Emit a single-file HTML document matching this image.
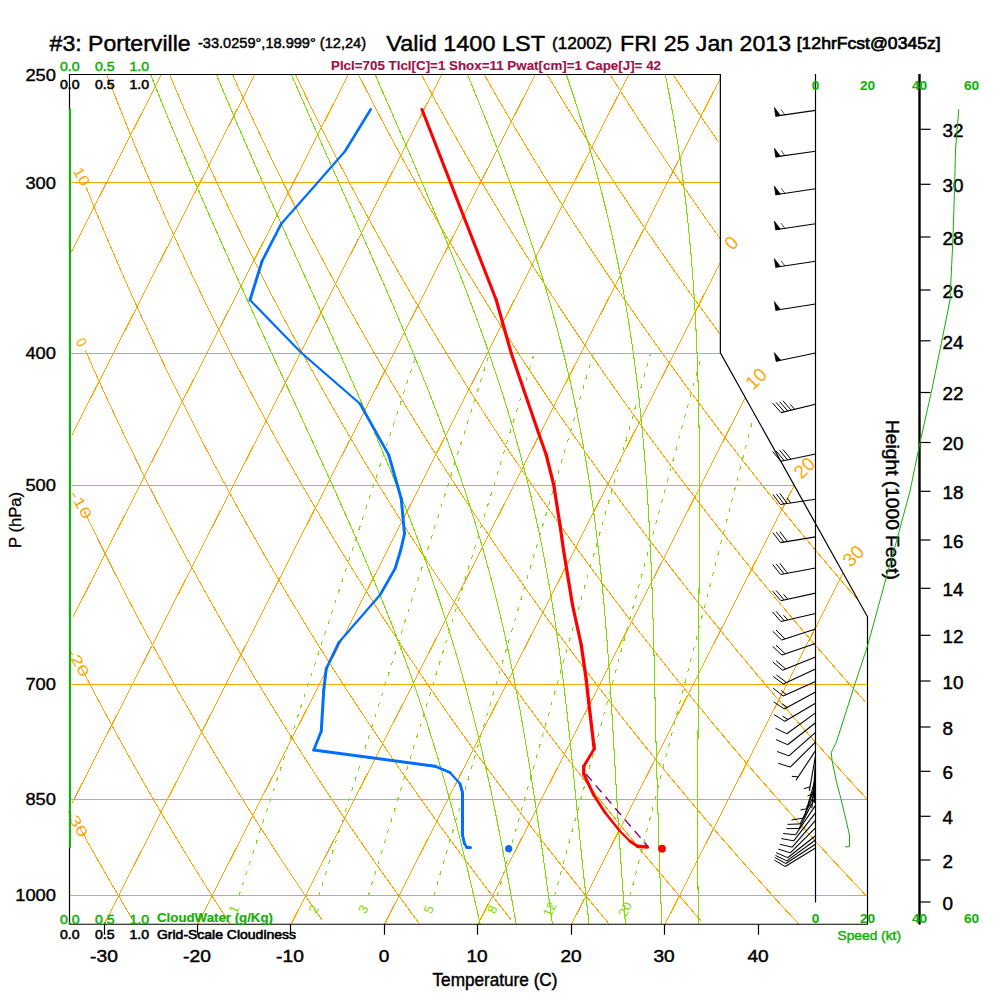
<!DOCTYPE html>
<html><head><meta charset="utf-8"><title>Skew-T</title>
<style>html,body{margin:0;padding:0;background:#fff;overflow:hidden}svg{display:block}text{font-family:"Liberation Sans",sans-serif}</style>
</head><body>
<svg width="1000" height="1000" viewBox="0 0 1000 1000">
<rect width="1000" height="1000" fill="#fff"/>
<defs><clipPath id="fc"><polygon transform="translate(-0.6 -0.5)" points="69.50,924.25 69.50,74.50 720.36,74.50 720.36,352.80 867.50,616.83 867.50,924.25"/></clipPath></defs>
<g clip-path="url(#fc)" transform="translate(0.6 0.5)" shape-rendering="crispEdges">
<polyline points="71.94,-303.67 155.34,-468.06" fill="none" stroke="#FFA500" stroke-width="1" />
<polyline points="70.58,-116.74 248.81,-468.06" fill="none" stroke="#FFA500" stroke-width="1" />
<polyline points="70.66,67.35 342.29,-468.06" fill="none" stroke="#FFA500" stroke-width="1" />
<polyline points="70.80,251.32 435.76,-468.06" fill="none" stroke="#FFA500" stroke-width="1" />
<polyline points="71.46,434.27 529.24,-468.06" fill="none" stroke="#FFA500" stroke-width="1" />
<polyline points="72.19,617.06 622.71,-468.06" fill="none" stroke="#FFA500" stroke-width="1" />
<polyline points="71.54,802.60 716.19,-468.06" fill="none" stroke="#FFA500" stroke-width="1" />
<polyline points="103.30,924.25 719.51,-290.36" fill="none" stroke="#FFA500" stroke-width="1" />
<polyline points="196.77,924.25 718.33,-103.79" fill="none" stroke="#FFA500" stroke-width="1" />
<polyline points="290.25,924.25 720.16,76.86" fill="none" stroke="#FFA500" stroke-width="1" />
<polyline points="383.72,924.25 720.70,260.04" fill="none" stroke="#FFA500" stroke-width="1" />
<polyline points="477.20,924.25 745.39,395.62" fill="none" stroke="#FFA500" stroke-width="1" />
<polyline points="570.67,924.25 793.55,484.93" fill="none" stroke="#FFA500" stroke-width="1" />
<polyline points="664.15,924.25 842.44,572.81" fill="none" stroke="#FFA500" stroke-width="1" />
<polyline points="69.50,895.00 867.50,895.00" fill="none" stroke="#FFA500" stroke-width="1" />
<polyline points="69.50,799.00 867.50,799.00" fill="none" stroke="#FFA500" stroke-width="1" />
<polyline points="69.50,684.00 867.50,684.00" fill="none" stroke="#FFA500" stroke-width="1" />
<polyline points="69.50,485.00 793.59,485.00" fill="none" stroke="#FFA500" stroke-width="1" />
<polyline points="69.50,353.00 720.36,353.00" fill="none" stroke="#FFA500" stroke-width="1" />
<polyline points="69.50,182.00 720.36,182.00" fill="none" stroke="#FFA500" stroke-width="1" />
<polyline points="78.61,826.36 82.27,832.97 85.92,839.52 89.55,845.99 93.16,852.39 96.75,858.72 100.33,864.99 103.89,871.19 107.43,877.32 110.95,883.40 114.46,889.41 117.95,895.36 121.43,901.25 124.89,907.09 128.33,912.86 131.76,918.58 135.17,924.25" fill="none" stroke="#FFA500" stroke-width="1" />
<polyline points="80.63,667.00 85.10,675.64 89.53,684.16 93.94,692.56 98.33,700.84 102.68,709.01 107.01,717.07 111.31,725.02 115.59,732.86 119.84,740.60 124.07,748.24 128.27,755.78 132.45,763.23 136.60,770.59 140.74,777.85 144.84,785.03 148.93,792.12 152.99,799.13 157.03,806.05 161.05,812.90 165.05,819.67 169.02,826.36 172.98,832.97 176.91,839.52 180.83,845.99 184.72,852.39 188.59,858.72 192.45,864.99 196.28,871.19 200.10,877.32 203.89,883.40 207.67,889.41 211.43,895.36 215.17,901.25 218.89,907.09 222.60,912.86 226.28,918.58 229.95,924.25" fill="none" stroke="#FFA500" stroke-width="1" />
<polyline points="83.62,510.43 89.02,521.66 94.37,532.69 99.68,543.51 104.96,554.15 110.19,564.59 115.38,574.85 120.54,584.94 125.66,594.86 130.74,604.61 135.78,614.21 140.79,623.65 145.77,632.95 150.71,642.10 155.62,651.11 160.49,659.99 165.33,668.74 170.14,677.36 174.91,685.85 179.66,694.23 184.38,702.49 189.06,710.63 193.72,718.67 198.34,726.59 202.94,734.42 207.51,742.14 212.05,749.76 216.57,757.28 221.05,764.71 225.51,772.05 229.95,779.29 234.36,786.45 238.74,793.53 243.10,800.52 247.43,807.43 251.74,814.26 256.03,821.01 260.29,827.69 264.53,834.29 268.75,840.82 272.94,847.27 277.11,853.66 281.26,859.98 285.39,866.23 289.49,872.42 293.58,878.54 297.64,884.60 301.68,890.60 305.71,896.54 309.71,902.42 313.69,908.25 317.65,914.01 321.60,919.72" fill="none" stroke="#FFA500" stroke-width="1" />
<polyline points="84.76,349.83 91.25,364.53 97.69,378.86 104.07,392.86 110.38,406.54 116.64,419.91 122.84,432.98 128.99,445.77 135.08,458.29 141.12,470.55 147.11,482.56 153.04,494.33 158.93,505.87 164.76,517.19 170.55,528.30 176.29,539.21 181.99,549.92 187.64,560.43 193.25,570.77 198.81,580.92 204.33,590.91 209.81,600.73 215.25,610.39 220.65,619.89 226.01,629.25 231.33,638.46 236.61,647.53 241.85,656.46 247.06,665.26 252.23,673.93 257.37,682.47 262.47,690.89 267.53,699.20 272.57,707.39 277.57,715.47 282.54,723.44 287.47,731.30 292.38,739.06 297.25,746.72 302.09,754.28 306.91,761.75 311.69,769.12 316.44,776.41 321.17,783.60 325.87,790.71 330.54,797.73 335.18,804.68 339.80,811.54 344.38,818.32 348.95,825.03 353.49,831.66 358.00,838.21 362.48,844.70 366.95,851.11 371.38,857.46 375.80,863.74 380.19,869.95 384.56,876.10 388.90,882.19 393.22,888.21 397.52,894.17 401.80,900.08 406.05,905.92 410.29,911.71 414.50,917.44 418.69,923.12" fill="none" stroke="#FFA500" stroke-width="1" />
<polyline points="85.39,186.39 93.17,205.68 100.86,224.36 108.46,242.47 115.98,260.04 123.42,277.11 130.78,293.69 138.05,309.83 145.25,325.54 152.38,340.84 159.43,355.75 166.41,370.30 173.32,384.50 180.16,398.37 186.94,411.92 193.65,425.17 200.29,438.13 206.88,450.81 213.40,463.22 219.86,475.38 226.27,487.29 232.62,498.97 238.91,510.43 245.15,521.66 251.34,532.69 257.47,543.51 263.56,554.15 269.59,564.59 275.57,574.85 281.51,584.94 287.40,594.86 293.24,604.61 299.04,614.21 304.80,623.65 310.51,632.95 316.18,642.10 321.80,651.11 327.39,659.99 332.93,668.74 338.44,677.36 343.91,685.85 349.34,694.23 354.73,702.49 360.08,710.63 365.40,718.67 370.69,726.59 375.94,734.42 381.15,742.14 386.33,749.76 391.48,757.28 396.59,764.71 401.68,772.05 406.73,779.29 411.75,786.45 416.74,793.53 421.70,800.52 426.63,807.43 431.53,814.26 436.40,821.01 441.24,827.69 446.06,834.29 450.84,840.82 455.61,847.27 460.34,853.66 465.05,859.98 469.73,866.23 474.39,872.42 479.02,878.54 483.62,884.60 488.21,890.60 492.76,896.54 497.30,902.42 501.81,908.25 506.29,914.01 510.76,919.72" fill="none" stroke="#FFA500" stroke-width="1" />
<polyline points="88.00,25.13 97.23,50.33 106.34,74.50 115.32,97.72 124.19,120.07 132.94,141.60 141.58,162.38 150.11,182.46 158.53,201.87 166.85,220.67 175.07,238.89 183.19,256.57 191.21,273.73 199.15,290.41 206.99,306.64 214.74,322.43 222.41,337.81 229.99,352.80 237.49,367.42 244.92,381.69 252.26,395.62 259.54,409.24 266.74,422.54 273.86,435.56 280.92,448.29 287.91,460.76 294.83,472.97 301.69,484.93 308.49,496.66 315.22,508.15 321.89,519.43 328.51,530.50 335.06,541.37 341.56,552.03 348.01,562.52 354.40,572.81 360.73,582.94 367.02,592.89 373.25,602.67 379.44,612.30 385.58,621.78 391.66,631.10 397.71,640.28 403.70,649.32 409.65,658.23 415.56,667.00 421.42,675.64 427.24,684.16 433.02,692.56 438.76,700.84 444.46,709.01 450.12,717.07 455.74,725.02 461.32,732.86 466.87,740.60 472.37,748.24 477.84,755.78 483.28,763.23 488.68,770.59 494.05,777.85 499.38,785.03 504.68,792.12 509.94,799.13 515.18,806.05 520.38,812.90 525.55,819.67 530.69,826.36 535.80,832.97 540.88,839.52 545.93,845.99 550.95,852.39 555.95,858.72 560.91,864.99 565.85,871.19 570.76,877.32 575.64,883.40 580.50,889.41 585.33,895.36 590.13,901.25 594.91,907.09 599.66,912.86 604.39,918.58 609.10,924.25" fill="none" stroke="#FFA500" stroke-width="1" />
<polyline points="89.57,-143.50 100.46,-110.23 111.18,-78.72 121.74,-48.81 132.14,-20.34 142.38,6.83 152.46,32.80 162.40,57.68 172.19,81.56 181.84,104.52 191.36,126.61 200.74,147.92 210.00,168.48 219.13,188.35 228.14,207.58 237.03,226.20 245.81,244.25 254.48,261.77 263.05,278.79 271.51,295.33 279.86,311.42 288.13,327.09 296.29,342.35 304.37,357.23 312.35,371.74 320.25,385.91 328.07,399.74 335.80,413.26 343.45,426.48 351.02,439.41 358.52,452.06 365.94,464.45 373.29,476.58 380.56,488.47 387.77,500.13 394.92,511.56 401.99,522.77 409.00,533.78 415.95,544.59 422.84,555.20 429.67,565.62 436.44,575.87 443.15,585.94 449.80,595.84 456.40,605.58 462.95,615.16 469.44,624.59 475.89,633.87 482.28,643.01 488.62,652.01 494.91,660.87 501.16,669.61 507.36,678.21 513.51,686.70 519.62,695.06 525.69,703.31 531.71,711.44 537.69,719.46 543.62,727.38 549.52,735.19 555.37,742.90 561.19,750.51 566.97,758.03 572.70,765.45 578.41,772.78 584.07,780.01 589.70,787.17 595.29,794.23 600.85,801.21 606.37,808.12 611.86,814.94 617.31,821.68 622.73,828.35 628.12,834.94 633.48,841.47 638.80,847.92 644.10,854.30 649.36,860.61 654.60,866.85 659.80,873.04 664.97,879.15 670.12,885.21 675.24,891.20 680.33,897.13 685.39,903.01 690.42,908.82 695.43,914.58 700.41,920.29" fill="none" stroke="#FFA500" stroke-width="1" />
<polyline points="91.84,-317.28 104.55,-273.07 117.06,-231.93 129.36,-193.47 141.45,-157.35 153.33,-123.31 165.01,-91.13 176.50,-60.60 187.79,-31.57 198.90,-3.89 209.82,22.55 220.57,47.86 231.15,72.13 241.57,95.44 251.83,117.87 261.94,139.49 271.90,160.34 281.72,180.48 291.40,199.96 300.95,218.82 310.37,237.10 319.67,254.83 328.85,272.04 337.91,288.77 346.86,305.04 355.70,320.87 364.43,336.29 373.06,351.32 381.59,365.98 390.03,380.28 398.37,394.25 406.62,407.89 414.77,421.23 422.85,434.27 430.83,447.03 438.74,459.52 446.57,471.76 454.31,483.74 461.99,495.49 469.58,507.01 477.11,518.31 484.56,529.40 491.95,540.29 499.27,550.98 506.52,561.48 513.71,571.79 520.84,581.93 527.90,591.90 534.91,601.70 541.85,611.35 548.74,620.84 555.58,630.18 562.35,639.37 569.08,648.43 575.75,657.34 582.37,666.13 588.93,674.79 595.45,683.32 601.92,691.73 608.34,700.02 614.72,708.20 621.04,716.27 627.33,724.23 633.57,732.08 639.76,739.83 645.91,747.48 652.02,755.03 658.09,762.49 664.12,769.86 670.11,777.13 676.05,784.32 681.96,791.42 687.84,798.43 693.67,805.37 699.47,812.22 705.23,818.99 710.96,825.69 716.65,832.32 722.30,838.87 727.93,845.34 733.51,851.75 739.07,858.09 744.59,864.36 750.09,870.57 755.55,876.71 760.98,882.79 766.37,888.81 771.74,894.77 777.08,900.67 782.39,906.50 787.67,912.29 792.92,918.01 798.15,923.69" fill="none" stroke="#FFA500" stroke-width="1" />
<polyline points="116.95,-411.62 131.27,-360.10 145.33,-312.71 159.14,-268.83 172.69,-227.97 185.98,-189.76 199.02,-153.86 211.81,-120.02 224.36,-88.00 236.68,-57.63 248.78,-28.74 260.67,-1.19 272.35,25.13 283.84,50.33 295.13,74.50 306.24,97.72 317.18,120.07 327.94,141.60 338.54,162.38 348.99,182.46 359.28,201.87 369.42,220.67 379.43,238.89 389.30,256.57 399.03,273.73 408.64,290.41 418.13,306.64 427.50,322.43 436.75,337.81 445.89,352.80 454.92,367.42 463.84,381.69 472.66,395.62 481.38,409.24 490.01,422.54 498.54,435.56 506.98,448.29 515.34,460.76 523.60,472.97 531.78,484.93 539.88,496.66 547.90,508.15 555.84,519.43 563.71,530.50 571.50,541.37 579.22,552.03 586.86,562.52 594.44,572.81 601.95,582.94 609.40,592.89 616.78,602.67 624.10,612.30 631.36,621.78 638.55,631.10 645.69,640.28 652.77,649.32 659.79,658.23 666.76,667.00 673.67,675.64 680.53,684.16 687.33,692.56 694.09,700.84 700.80,709.01 707.45,717.07 714.06,725.02 720.62,732.86 727.13,740.60 733.60,748.24 740.02,755.78 746.40,763.23 752.74,770.59 759.03,777.85 765.28,785.03 771.49,792.12 777.66,799.13 783.79,806.05 789.88,812.90 795.93,819.67 801.94,826.36 807.92,832.97 813.86,839.52 819.76,845.99 825.63,852.39 831.46,858.72 837.26,864.99 843.03,871.19 848.76,877.32 854.45,883.40 860.12,889.41 865.75,895.36" fill="none" stroke="#FFA500" stroke-width="1" />
<polyline points="166.73,-411.62 182.30,-360.10 197.55,-312.71 212.47,-268.83 227.08,-227.97 241.38,-189.76 255.39,-153.86 269.11,-120.02 282.55,-88.00 295.73,-57.63 308.66,-28.74 321.35,-1.19 333.80,25.13 346.04,50.33 358.06,74.50 369.88,97.72 381.50,120.07 392.94,141.60 404.20,162.38 415.28,182.46 426.19,201.87 436.95,220.67 447.55,238.89 458.00,256.57 468.31,273.73 478.48,290.41 488.51,306.64 498.41,322.43 508.19,337.81 517.85,352.80 527.39,367.42 536.81,381.69 546.13,395.62 555.33,409.24 564.44,422.54 573.44,435.56 582.34,448.29 591.14,460.76 599.86,472.97 608.48,484.93 617.01,496.66 625.46,508.15 633.82,519.43 642.11,530.50 650.31,541.37 658.44,552.03 666.48,562.52 674.46,572.81 682.36,582.94 690.19,592.89 697.96,602.67 705.65,612.30 713.28,621.78 720.85,631.10 728.35,640.28 735.79,649.32 743.17,658.23 750.49,667.00 757.75,675.64 764.96,684.16 772.10,692.56 779.20,700.84 786.24,709.01 793.23,717.07 800.17,725.02 807.05,732.86 813.89,740.60 820.68,748.24 827.42,755.78 834.11,763.23 840.76,770.59 847.36,777.85 853.91,785.03 860.43,792.12 866.90,799.13" fill="none" stroke="#FFA500" stroke-width="1" />
<polyline points="216.52,-411.62 233.34,-360.10 249.76,-312.71 265.81,-268.83 281.48,-227.97 296.79,-189.76 311.76,-153.86 326.40,-120.02 340.74,-88.00 354.78,-57.63 368.54,-28.74 382.02,-1.19 395.25,25.13 408.24,50.33 420.99,74.50 433.52,97.72 445.83,120.07 457.94,141.60 469.85,162.38 481.57,182.46 493.11,201.87 504.47,220.67 515.67,238.89 526.70,256.57 537.58,273.73 548.31,290.41 558.89,306.64 569.33,322.43 579.64,337.81 589.81,352.80 599.86,367.42 609.79,381.69 619.59,395.62 629.28,409.24 638.86,422.54 648.33,435.56 657.69,448.29 666.95,460.76 676.11,472.97 685.18,484.93 694.14,496.66 703.02,508.15 711.81,519.43 720.51,530.50 729.12,541.37 737.65,552.03 746.10,562.52 754.48,572.81 762.77,582.94 770.99,592.89 779.13,602.67 787.21,612.30 795.21,621.78 803.14,631.10 811.01,640.28 818.81,649.32 826.55,658.23 834.22,667.00 841.83,675.64 849.38,684.16 856.88,692.56 864.31,700.84" fill="none" stroke="#FFA500" stroke-width="1" />
<polyline points="266.31,-411.62 284.38,-360.10 301.98,-312.71 319.14,-268.83 335.87,-227.97 352.19,-189.76 368.13,-153.86 383.70,-120.02 398.93,-88.00 413.83,-57.63 428.41,-28.74 442.70,-1.19 456.71,25.13 470.44,50.33 483.92,74.50 497.16,97.72 510.16,120.07 522.94,141.60 535.50,162.38 547.86,182.46 560.02,201.87 572.00,220.67 583.79,238.89 595.41,256.57 606.86,273.73 618.14,290.41 629.27,306.64 640.25,322.43 651.09,337.81 661.78,352.80 672.34,367.42 682.76,381.69 693.06,395.62 703.23,409.24 713.29,422.54 723.22,435.56 733.05,448.29 742.76,460.76 752.37,472.97 761.87,484.93 771.28,496.66 780.58,508.15 789.79,519.43 798.91,530.50 807.93,541.37 816.87,552.03 825.72,562.52 834.49,572.81 843.18,582.94 851.78,592.89 860.31,602.67" fill="none" stroke="#FFA500" stroke-width="1" />
<polyline points="316.09,-411.62 335.41,-360.10 354.20,-312.71 372.47,-268.83 390.26,-227.97 407.60,-189.76 424.50,-153.86 441.00,-120.02 457.12,-88.00 472.87,-57.63 488.29,-28.74 503.38,-1.19 518.16,25.13 532.64,50.33 546.85,74.50 560.80,97.72 574.49,120.07 587.94,141.60 601.16,162.38 614.15,182.46 626.94,201.87 639.52,220.67 651.91,238.89 664.11,256.57 676.13,273.73 687.98,290.41 699.65,306.64 711.17,322.43 722.53,337.81" fill="none" stroke="#FFA500" stroke-width="1" />
<polyline points="365.88,-411.62 386.45,-360.10 406.41,-312.71 425.80,-268.83 444.65,-227.97 463.00,-189.76 480.87,-153.86 498.30,-120.02 515.31,-88.00 531.92,-57.63 548.16,-28.74 564.05,-1.19 579.61,25.13 594.85,50.33 609.78,74.50 624.44,97.72 638.82,120.07 652.94,141.60 666.81,162.38 680.45,182.46 693.86,201.87 707.05,220.67 720.03,238.89" fill="none" stroke="#FFA500" stroke-width="1" />
<polyline points="415.66,-411.62 437.49,-360.10 458.63,-312.71 479.14,-268.83 499.05,-227.97 518.41,-189.76 537.24,-153.86 555.60,-120.02 573.50,-88.00 590.97,-57.63 608.04,-28.74 624.73,-1.19 641.06,25.13 657.05,50.33 672.71,74.50 688.07,97.72 703.14,120.07 717.94,141.60" fill="none" stroke="#FFA500" stroke-width="1" />
<polyline points="465.45,-411.62 488.52,-360.10 510.85,-312.71 532.47,-268.83 553.44,-227.97 573.81,-189.76 593.62,-153.86 612.90,-120.02 631.69,-88.00 650.02,-57.63 667.91,-28.74 685.40,-1.19 702.51,25.13 719.25,50.33" fill="none" stroke="#FFA500" stroke-width="1" />
<polyline points="515.23,-411.62 539.56,-360.10 563.06,-312.71 585.80,-268.83 607.83,-227.97 629.21,-189.76 649.99,-153.86 670.20,-120.02 689.88,-88.00 709.06,-57.63 727.79,-28.74" fill="none" stroke="#FFA500" stroke-width="1" />
<polyline points="565.02,-411.62 590.60,-360.10 615.28,-312.71 639.13,-268.83 662.23,-227.97 684.62,-189.76 706.36,-153.86 727.49,-120.02" fill="none" stroke="#FFA500" stroke-width="1" />
<polyline points="614.80,-411.62 641.64,-360.10 667.50,-312.71 692.47,-268.83 716.62,-227.97" fill="none" stroke="#FFA500" stroke-width="1" />
<polyline points="664.59,-411.62 692.67,-360.10 719.71,-312.71" fill="none" stroke="#FFA500" stroke-width="1" />
<polyline points="714.37,-411.62" fill="none" stroke="#FFA500" stroke-width="1" />
<polyline points="697.94,924.25 697.84,918.58 697.74,912.86 697.65,907.09 697.57,901.25 697.50,895.36 697.43,889.41 697.37,883.40 697.32,877.32 697.27,871.19 697.23,864.99 697.20,858.72 697.17,852.39 697.15,845.99 697.13,839.52 697.12,832.97 697.12,826.36 697.12,819.67 697.12,812.90 697.13,806.05 697.15,799.13 697.17,792.12 697.19,785.03 697.21,777.85 697.24,770.59 697.28,763.23 697.31,755.78 697.35,748.24 697.39,740.60 697.43,732.86 697.47,725.02 697.50,717.07 697.54,709.01 697.58,700.84 697.61,692.56 697.64,684.16 697.67,675.64 697.72,667.00 697.79,658.23 697.87,649.32 697.95,640.28 698.04,631.10 698.12,621.78 698.21,612.30 698.31,602.67 698.40,592.89 698.49,582.94 698.57,572.81 698.66,562.52 698.73,552.03 698.80,541.37 698.86,530.50 698.90,519.43 698.93,508.15 698.94,496.66 698.92,484.93 698.88,472.97 698.81,460.76 698.71,448.29 698.56,435.56 698.37,422.54 698.13,409.24 697.82,395.62 697.45,381.69 697.00,367.42 696.46,352.80 695.83,337.81 695.08,322.43 694.20,306.64 693.18,290.41 691.99,273.73 690.63,256.57 689.06,238.89 687.25,220.67 685.17,201.87 682.78,182.46 680.06,162.38 676.95,141.60 673.40,120.07 669.36,97.72 664.76,74.50" fill="none" stroke="#80DC00" stroke-width="1.05" />
<polyline points="661.34,924.25 661.08,918.58 660.83,912.86 660.58,907.09 660.34,901.25 660.11,895.36 659.88,889.41 659.65,883.40 659.43,877.32 659.22,871.19 659.01,864.99 658.80,858.72 658.59,852.39 658.39,845.99 658.19,839.52 657.99,832.97 657.80,826.36 657.60,819.67 657.41,812.90 657.21,806.05 657.01,799.13 656.82,792.12 656.62,785.03 656.41,777.85 656.20,770.59 655.99,763.23 655.77,755.78 655.59,748.24 655.40,740.60 655.22,732.86 655.04,725.02 654.86,717.07 654.68,709.01 654.50,700.84 654.31,692.56 654.12,684.16 653.93,675.64 653.72,667.00 653.51,658.23 653.28,649.32 653.04,640.28 652.79,631.10 652.53,621.78 652.24,612.30 651.93,602.67 651.60,592.89 651.24,582.94 650.85,572.81 650.43,562.52 649.97,552.03 649.47,541.37 648.92,530.50 648.32,519.43 647.67,508.15 646.95,496.66 646.17,484.93 645.31,472.97 644.37,460.76 643.35,448.29 642.22,435.56 640.98,422.54 639.62,409.24 638.13,395.62 636.49,381.69 634.70,367.42 632.73,352.80 630.56,337.81 628.19,322.43 625.58,306.64 622.72,290.41 619.58,273.73 616.13,256.57 612.34,238.89 608.19,220.67 603.64,201.87 598.66,182.46 593.21,162.38 587.25,141.60 580.75,120.07 573.66,97.72 565.94,74.50" fill="none" stroke="#80DC00" stroke-width="1.05" />
<polyline points="624.93,924.25 624.48,918.58 624.04,912.86 623.59,907.09 623.16,901.25 622.72,895.36 622.28,889.41 621.85,883.40 621.42,877.32 620.99,871.19 620.55,864.99 620.12,858.72 619.69,852.39 619.25,845.99 618.81,839.52 618.36,832.97 617.94,826.36 617.53,819.67 617.12,812.90 616.71,806.05 616.30,799.13 615.89,792.12 615.48,785.03 615.07,777.85 614.66,770.59 614.24,763.23 613.82,755.78 613.39,748.24 612.95,740.60 612.50,732.86 612.04,725.02 611.57,717.07 611.09,709.01 610.58,700.84 610.06,692.56 609.52,684.16 608.95,675.64 608.36,667.00 607.75,658.23 607.10,649.32 606.41,640.28 605.69,631.10 604.93,621.78 604.13,612.30 603.27,602.67 602.37,592.89 601.40,582.94 600.38,572.81 599.29,562.52 598.13,552.03 596.88,541.37 595.55,530.50 594.13,519.43 592.61,508.15 590.98,496.66 589.24,484.93 587.37,472.97 585.36,460.76 583.20,448.29 580.89,435.56 578.40,422.54 575.73,409.24 572.86,395.62 569.78,381.69 566.46,367.42 562.90,352.80 559.08,337.81 554.98,322.43 550.57,306.64 545.84,290.41 540.77,273.73 535.35,256.57 529.54,238.89 523.33,220.67 516.70,201.87 509.63,182.46 502.10,162.38 494.09,141.60 485.59,120.07 476.58,97.72 467.05,74.50" fill="none" stroke="#80DC00" stroke-width="1.05" />
<polyline points="588.51,924.25 587.89,918.58 587.27,912.86 586.63,907.09 585.98,901.25 585.33,895.36 584.66,889.41 584.00,883.40 583.35,877.32 582.69,871.19 582.04,864.99 581.39,858.72 580.74,852.39 580.09,845.99 579.44,839.52 578.78,832.97 578.13,826.36 577.47,819.67 576.80,812.90 576.12,806.05 575.44,799.13 574.75,792.12 574.05,785.03 573.34,777.85 572.61,770.59 571.86,763.23 571.10,755.78 570.32,748.24 569.52,740.60 568.70,732.86 567.85,725.02 566.97,717.07 566.06,709.01 565.12,700.84 564.14,692.56 563.12,684.16 562.06,675.64 560.95,667.00 559.80,658.23 558.59,649.32 557.32,640.28 555.99,631.10 554.60,621.78 553.13,612.30 551.59,602.67 549.96,592.89 548.25,582.94 546.44,572.81 544.54,562.52 542.52,552.03 540.39,541.37 538.14,530.50 535.75,519.43 533.23,508.15 530.56,496.66 527.73,484.93 524.74,472.97 521.57,460.76 518.21,448.29 514.65,435.56 510.89,422.54 506.90,409.24 502.68,395.62 498.21,381.69 493.49,367.42 488.50,352.80 483.24,337.81 477.68,322.43 471.83,306.64 465.66,290.41 459.17,273.73 452.35,256.57 445.19,238.89 437.68,220.67 429.81,201.87 421.58,182.46 412.98,162.38 403.99,141.60 394.63,120.07 384.86,97.72 374.70,74.50" fill="none" stroke="#80DC00" stroke-width="1.05" />
<polyline points="551.91,924.25 551.13,918.58 550.34,912.86 549.54,907.09 548.74,901.25 547.94,895.36 547.12,889.41 546.30,883.40 545.47,877.32 544.63,871.19 543.77,864.99 542.90,858.72 542.02,852.39 541.12,845.99 540.20,839.52 539.23,832.97 538.24,826.36 537.24,819.67 536.22,812.90 535.19,806.05 534.13,799.13 533.06,792.12 531.97,785.03 530.85,777.85 529.70,770.59 528.52,763.23 527.32,755.78 526.07,748.24 524.80,740.60 523.48,732.86 522.12,725.02 520.72,717.07 519.27,709.01 517.77,700.84 516.21,692.56 514.60,684.16 512.92,675.64 511.18,667.00 509.36,658.23 507.47,649.32 505.50,640.28 503.44,631.10 501.30,621.78 499.06,612.30 496.72,602.67 494.27,592.89 491.71,582.94 489.03,572.81 486.23,562.52 483.29,552.03 480.22,541.37 476.99,530.50 473.62,519.43 470.09,508.15 466.39,496.66 462.52,484.93 458.46,472.97 454.22,460.76 449.78,448.29 445.14,435.56 440.29,422.54 435.22,409.24 429.93,395.62 424.42,381.69 418.66,367.42 412.67,352.80 406.43,337.81 399.94,322.43 393.20,306.64 386.20,290.41 378.93,273.73 371.40,256.57 363.59,238.89 355.51,220.67 347.15,201.87 338.51,182.46 329.58,162.38 320.36,141.60 310.85,120.07 301.04,97.72 290.92,74.50" fill="none" stroke="#80DC00" stroke-width="1.05" />
<polyline points="515.71,924.25 514.70,918.58 513.68,912.86 512.65,907.09 511.61,901.25 510.55,895.36 509.48,889.41 508.39,883.40 507.28,877.32 506.16,871.19 505.02,864.99 503.86,858.72 502.67,852.39 501.46,845.99 500.23,839.52 498.97,832.97 497.67,826.36 496.35,819.67 494.99,812.90 493.60,806.05 492.17,799.13 490.70,792.12 489.19,785.03 487.63,777.85 486.02,770.59 484.35,763.23 482.60,755.78 480.81,748.24 478.96,740.60 477.06,732.86 475.10,725.02 473.09,717.07 471.00,709.01 468.85,700.84 466.63,692.56 464.34,684.16 461.96,675.64 459.51,667.00 456.96,658.23 454.33,649.32 451.60,640.28 448.77,631.10 445.83,621.78 442.79,612.30 439.63,602.67 436.35,592.89 432.95,582.94 429.42,572.81 425.76,562.52 421.96,552.03 418.02,541.37 413.93,530.50 409.70,519.43 405.30,508.15 400.75,496.66 396.03,484.93 391.15,472.97 386.09,460.76 380.86,448.29 375.45,435.56 369.86,422.54 364.08,409.24 358.12,395.62 351.96,381.69 345.62,367.42 339.08,352.80 332.34,337.81 325.40,322.43 318.25,306.64 310.91,290.41 303.35,273.73 295.59,256.57 287.62,238.89 279.43,220.67 271.03,201.87 262.40,182.46 253.56,162.38 244.50,141.60 235.21,120.07 225.69,97.72 215.95,74.50" fill="none" stroke="#80DC00" stroke-width="1.05" />
<polyline points="479.72,924.25 478.45,918.58 477.16,912.86 475.85,907.09 474.51,901.25 473.16,895.36 471.78,889.41 470.37,883.40 468.94,877.32 467.48,871.19 465.99,864.99 464.46,858.72 462.91,852.39 461.32,845.99 459.70,839.52 458.04,832.97 456.34,826.36 454.59,819.67 452.81,812.90 450.98,806.05 449.10,799.13 447.17,792.12 445.19,785.03 443.16,777.85 441.07,770.59 438.92,763.23 436.71,755.78 434.43,748.24 432.08,740.60 429.67,732.86 427.18,725.02 424.61,717.07 421.96,709.01 419.23,700.84 416.41,692.56 413.51,684.16 410.51,675.64 407.41,667.00 404.21,658.23 400.91,649.32 397.51,640.28 393.97,631.10 390.31,621.78 386.55,612.30 382.68,602.67 378.69,592.89 374.59,582.94 370.36,572.81 366.01,562.52 361.54,552.03 356.93,541.37 352.20,530.50 347.33,519.43 342.33,508.15 337.19,496.66 331.92,484.93 326.50,472.97 320.94,460.76 315.23,448.29 309.38,435.56 303.39,422.54 297.24,409.24 290.95,395.62 284.50,381.69 277.90,367.42 271.15,352.80 264.24,337.81 257.17,322.43 249.94,306.64 242.55,290.41 235.00,273.73 227.29,256.57 219.41,238.89 211.36,220.67 203.15,201.87 194.76,182.46 186.21,162.38 177.48,141.60 168.58,120.07 159.50,97.72 150.26,74.50" fill="none" stroke="#80DC00" stroke-width="1.05" />
<polyline points="629.47,895.36 769.25,352.80" fill="none" stroke="#80DC00" stroke-width="1.05" stroke-dasharray="4 7"/>
<polyline points="553.93,895.36 701.55,352.80" fill="none" stroke="#80DC00" stroke-width="1.05" stroke-dasharray="4 7"/>
<polyline points="496.63,895.36 650.05,352.80" fill="none" stroke="#80DC00" stroke-width="1.05" stroke-dasharray="4 7"/>
<polyline points="433.16,895.36 592.84,352.80" fill="none" stroke="#80DC00" stroke-width="1.05" stroke-dasharray="4 7"/>
<polyline points="367.67,895.36 533.66,352.80" fill="none" stroke="#80DC00" stroke-width="1.05" stroke-dasharray="4 7"/>
<polyline points="318.16,895.36 488.80,352.80" fill="none" stroke="#80DC00" stroke-width="1.05" stroke-dasharray="4 7"/>
<polyline points="238.27,895.36 416.21,352.80" fill="none" stroke="#80DC00" stroke-width="1.05" stroke-dasharray="4 7"/>
</g>
<text x="76.8" y="823.0" transform="rotate(60 76.8 823.0)" font-size="14.5" fill="#FFA500" text-anchor="middle" dominant-baseline="central" textLength="30.0" lengthAdjust="spacingAndGlyphs">-30</text>
<text x="78.4" y="662.6" transform="rotate(60 78.4 662.6)" font-size="14.5" fill="#FFA500" text-anchor="middle" dominant-baseline="central" textLength="30.0" lengthAdjust="spacingAndGlyphs">-20</text>
<text x="80.9" y="504.7" transform="rotate(60 80.9 504.7)" font-size="14.5" fill="#FFA500" text-anchor="middle" dominant-baseline="central" textLength="30.0" lengthAdjust="spacingAndGlyphs">-10</text>
<text x="81.5" y="342.3" transform="rotate(60 81.5 342.3)" font-size="14.5" fill="#FFA500" text-anchor="middle" dominant-baseline="central" textLength="7.5" lengthAdjust="spacingAndGlyphs">0</text>
<text x="81.5" y="176.5" transform="rotate(60 81.5 176.5)" font-size="14.5" fill="#FFA500" text-anchor="middle" dominant-baseline="central" textLength="19.0" lengthAdjust="spacingAndGlyphs">10</text>
<text x="731.5" y="243.0" transform="rotate(-45 731.5 243.0)" font-size="19" fill="#FFA500" text-anchor="middle" dominant-baseline="central">0</text>
<text x="756.2" y="378.6" transform="rotate(-45 756.2 378.6)" font-size="19" fill="#FFA500" text-anchor="middle" dominant-baseline="central">10</text>
<text x="804.4" y="467.9" transform="rotate(-45 804.4 467.9)" font-size="19" fill="#FFA500" text-anchor="middle" dominant-baseline="central">20</text>
<text x="853.3" y="555.8" transform="rotate(-45 853.3 555.8)" font-size="19" fill="#FFA500" text-anchor="middle" dominant-baseline="central">30</text>
<text x="625.1" y="909.3" transform="rotate(-65 625.1 909.3)" font-size="13" fill="#80DC00" text-anchor="middle" dominant-baseline="central">20</text>
<text x="549.6" y="909.3" transform="rotate(-65 549.6 909.3)" font-size="13" fill="#80DC00" text-anchor="middle" dominant-baseline="central">12</text>
<text x="492.3" y="909.3" transform="rotate(-65 492.3 909.3)" font-size="13" fill="#80DC00" text-anchor="middle" dominant-baseline="central">8</text>
<text x="428.8" y="909.3" transform="rotate(-65 428.8 909.3)" font-size="13" fill="#80DC00" text-anchor="middle" dominant-baseline="central">5</text>
<text x="363.3" y="909.3" transform="rotate(-65 363.3 909.3)" font-size="13" fill="#80DC00" text-anchor="middle" dominant-baseline="central">3</text>
<text x="313.8" y="909.3" transform="rotate(-65 313.8 909.3)" font-size="13" fill="#80DC00" text-anchor="middle" dominant-baseline="central">2</text>
<text x="233.9" y="909.3" transform="rotate(-65 233.9 909.3)" font-size="13" fill="#80DC00" text-anchor="middle" dominant-baseline="central">1</text>
<polygon points="69.50,924.25 69.50,74.50 720.36,74.50 720.36,352.80 867.50,616.83 867.50,924.25" fill="none" stroke="#000" stroke-width="1.2"/>
<text x="49.60" y="50.60" font-size="22.8" fill="#000" textLength="141.00" lengthAdjust="spacingAndGlyphs" stroke="#000" stroke-width="0.45" >#3: Porterville</text>
<text x="198.00" y="47.90" font-size="14.3" fill="#000" textLength="168.00" lengthAdjust="spacingAndGlyphs" stroke="#000" stroke-width="0.45" >-33.0259&#176;,18.999&#176; (12,24)</text>
<text x="386.30" y="50.60" font-size="22.8" fill="#000" textLength="158.70" lengthAdjust="spacingAndGlyphs" stroke="#000" stroke-width="0.45" >Valid 1400 LST</text>
<text x="552.00" y="48.80" font-size="16.8" fill="#000" textLength="60.00" lengthAdjust="spacingAndGlyphs" stroke="#000" stroke-width="0.45" >(1200Z)</text>
<text x="620.00" y="50.60" font-size="22.8" fill="#000" textLength="171.00" lengthAdjust="spacingAndGlyphs" stroke="#000" stroke-width="0.45" >FRI 25 Jan 2013</text>
<text x="796.70" y="48.80" font-size="16.8" fill="#000" textLength="144.00" lengthAdjust="spacingAndGlyphs" stroke="#000" stroke-width="0.7" >[12hrFcst@0345z]</text>
<text x="331.00" y="70.10" font-size="13.4" fill="#A0104A" textLength="330.00" lengthAdjust="spacingAndGlyphs" font-weight="bold" stroke="#A0104A" stroke-width="0.15" >Plcl=705 Tlcl[C]=1 Shox=11 Pwat[cm]=1 Cape[J]= 42</text>
<text x="56.00" y="80.60" font-size="16.2" fill="#000" text-anchor="end" textLength="30.60" lengthAdjust="spacingAndGlyphs" stroke="#000" stroke-width="0.35" >250</text>
<text x="56.00" y="188.56" font-size="16.2" fill="#000" text-anchor="end" textLength="30.60" lengthAdjust="spacingAndGlyphs" stroke="#000" stroke-width="0.35" >300</text>
<text x="56.00" y="358.90" font-size="16.2" fill="#000" text-anchor="end" textLength="30.60" lengthAdjust="spacingAndGlyphs" stroke="#000" stroke-width="0.35" >400</text>
<text x="56.00" y="491.03" font-size="16.2" fill="#000" text-anchor="end" textLength="30.60" lengthAdjust="spacingAndGlyphs" stroke="#000" stroke-width="0.35" >500</text>
<text x="56.00" y="690.26" font-size="16.2" fill="#000" text-anchor="end" textLength="30.60" lengthAdjust="spacingAndGlyphs" stroke="#000" stroke-width="0.35" >700</text>
<text x="56.00" y="805.23" font-size="16.2" fill="#000" text-anchor="end" textLength="30.60" lengthAdjust="spacingAndGlyphs" stroke="#000" stroke-width="0.35" >850</text>
<text x="56.00" y="901.46" font-size="16.2" fill="#000" text-anchor="end" textLength="40.80" lengthAdjust="spacingAndGlyphs" stroke="#000" stroke-width="0.35" >1000</text>
<text x="21.00" y="520.00" font-size="16" fill="#000" text-anchor="middle" textLength="56.00" lengthAdjust="spacingAndGlyphs" stroke="#000" stroke-width="0.25" transform="rotate(-90 21.00 520.00)" >P (hPa)</text>
<line x1="104.5" y1="924.25" x2="104.5" y2="934.75" stroke="#000" stroke-width="1.2"/>
<text x="104.00" y="962.00" font-size="17.3" fill="#000" text-anchor="middle" textLength="27.80" lengthAdjust="spacingAndGlyphs" stroke="#000" stroke-width="0.45" >-30</text>
<line x1="197.5" y1="924.25" x2="197.5" y2="934.75" stroke="#000" stroke-width="1.2"/>
<text x="197.00" y="962.00" font-size="17.3" fill="#000" text-anchor="middle" textLength="27.80" lengthAdjust="spacingAndGlyphs" stroke="#000" stroke-width="0.45" >-20</text>
<line x1="290.5" y1="924.25" x2="290.5" y2="934.75" stroke="#000" stroke-width="1.2"/>
<text x="290.00" y="962.00" font-size="17.3" fill="#000" text-anchor="middle" textLength="27.80" lengthAdjust="spacingAndGlyphs" stroke="#000" stroke-width="0.45" >-10</text>
<line x1="384.5" y1="924.25" x2="384.5" y2="934.75" stroke="#000" stroke-width="1.2"/>
<text x="384.00" y="962.00" font-size="17.3" fill="#000" text-anchor="middle" textLength="10.60" lengthAdjust="spacingAndGlyphs" stroke="#000" stroke-width="0.45" >0</text>
<line x1="477.5" y1="924.25" x2="477.5" y2="934.75" stroke="#000" stroke-width="1.2"/>
<text x="477.00" y="962.00" font-size="17.3" fill="#000" text-anchor="middle" textLength="21.20" lengthAdjust="spacingAndGlyphs" stroke="#000" stroke-width="0.45" >10</text>
<line x1="571.5" y1="924.25" x2="571.5" y2="934.75" stroke="#000" stroke-width="1.2"/>
<text x="571.00" y="962.00" font-size="17.3" fill="#000" text-anchor="middle" textLength="21.20" lengthAdjust="spacingAndGlyphs" stroke="#000" stroke-width="0.45" >20</text>
<line x1="664.5" y1="924.25" x2="664.5" y2="934.75" stroke="#000" stroke-width="1.2"/>
<text x="664.00" y="962.00" font-size="17.3" fill="#000" text-anchor="middle" textLength="21.20" lengthAdjust="spacingAndGlyphs" stroke="#000" stroke-width="0.45" >30</text>
<line x1="758.5" y1="924.25" x2="758.5" y2="934.75" stroke="#000" stroke-width="1.2"/>
<text x="758.00" y="962.00" font-size="17.3" fill="#000" text-anchor="middle" textLength="21.20" lengthAdjust="spacingAndGlyphs" stroke="#000" stroke-width="0.45" >40</text>
<text x="432.50" y="986.00" font-size="17.5" fill="#000" textLength="125.00" lengthAdjust="spacingAndGlyphs" stroke="#000" stroke-width="0.45" >Temperature (C)</text>
<text x="69.80" y="71.40" font-size="13.6" fill="#14B00A" text-anchor="middle" textLength="19.60" lengthAdjust="spacingAndGlyphs" stroke="#14B00A" stroke-width="0.55" >0.0</text>
<text x="104.70" y="71.40" font-size="13.6" fill="#14B00A" text-anchor="middle" textLength="19.60" lengthAdjust="spacingAndGlyphs" stroke="#14B00A" stroke-width="0.55" >0.5</text>
<text x="139.20" y="71.40" font-size="13.6" fill="#14B00A" text-anchor="middle" textLength="19.60" lengthAdjust="spacingAndGlyphs" stroke="#14B00A" stroke-width="0.55" >1.0</text>
<text x="69.80" y="88.60" font-size="13" fill="#000" text-anchor="middle" textLength="19.60" lengthAdjust="spacingAndGlyphs" stroke="#000" stroke-width="0.55" >0.0</text>
<text x="104.70" y="88.60" font-size="13" fill="#000" text-anchor="middle" textLength="19.60" lengthAdjust="spacingAndGlyphs" stroke="#000" stroke-width="0.55" >0.5</text>
<text x="139.20" y="88.60" font-size="13" fill="#000" text-anchor="middle" textLength="19.60" lengthAdjust="spacingAndGlyphs" stroke="#000" stroke-width="0.55" >1.0</text>
<text x="69.80" y="923.50" font-size="13.6" fill="#14B00A" text-anchor="middle" textLength="19.60" lengthAdjust="spacingAndGlyphs" stroke="#14B00A" stroke-width="0.55" >0.0</text>
<text x="104.70" y="923.50" font-size="13.6" fill="#14B00A" text-anchor="middle" textLength="19.60" lengthAdjust="spacingAndGlyphs" stroke="#14B00A" stroke-width="0.55" >0.5</text>
<text x="139.20" y="923.50" font-size="13.6" fill="#14B00A" text-anchor="middle" textLength="19.60" lengthAdjust="spacingAndGlyphs" stroke="#14B00A" stroke-width="0.55" >1.0</text>
<text x="69.80" y="938.60" font-size="13" fill="#000" text-anchor="middle" textLength="19.60" lengthAdjust="spacingAndGlyphs" stroke="#000" stroke-width="0.55" >0.0</text>
<text x="104.70" y="938.60" font-size="13" fill="#000" text-anchor="middle" textLength="19.60" lengthAdjust="spacingAndGlyphs" stroke="#000" stroke-width="0.55" >0.5</text>
<text x="139.20" y="938.60" font-size="13" fill="#000" text-anchor="middle" textLength="19.60" lengthAdjust="spacingAndGlyphs" stroke="#000" stroke-width="0.55" >1.0</text>
<text x="157.00" y="922.00" font-size="13" fill="#14B00A" textLength="116.00" lengthAdjust="spacingAndGlyphs" font-weight="bold" stroke="#14B00A" stroke-width="0.2" >CloudWater (g/Kg)</text>
<text x="157.00" y="938.60" font-size="13" fill="#000" textLength="139.00" lengthAdjust="spacingAndGlyphs" stroke="#000" stroke-width="0.6" >Grid-Scale Cloudiness</text>
<line x1="70" y1="108.5" x2="70" y2="848" stroke="#10B010" stroke-width="2"/>
<line x1="370.75" y1="109.25" x2="345.00" y2="151.25" stroke="#006EFF" stroke-width="2.56" stroke-linecap="round"/>
<line x1="345.00" y1="151.25" x2="312.00" y2="189.00" stroke="#006EFF" stroke-width="2.26" stroke-linecap="round"/>
<line x1="312.00" y1="189.00" x2="281.25" y2="223.75" stroke="#006EFF" stroke-width="2.25" stroke-linecap="round"/>
<line x1="281.25" y1="223.75" x2="262.00" y2="261.25" stroke="#006EFF" stroke-width="2.67" stroke-linecap="round"/>
<line x1="262.00" y1="261.25" x2="250.00" y2="300.00" stroke="#006EFF" stroke-width="2.87" stroke-linecap="round"/>
<line x1="250.00" y1="300.00" x2="301.00" y2="352.50" stroke="#006EFF" stroke-width="2.15" stroke-linecap="round"/>
<line x1="301.00" y1="352.50" x2="360.00" y2="403.75" stroke="#006EFF" stroke-width="2.26" stroke-linecap="round"/>
<line x1="360.00" y1="403.75" x2="388.75" y2="455.00" stroke="#006EFF" stroke-width="2.62" stroke-linecap="round"/>
<line x1="388.75" y1="455.00" x2="401.25" y2="498.75" stroke="#006EFF" stroke-width="2.88" stroke-linecap="round"/>
<line x1="401.25" y1="498.75" x2="404.50" y2="533.75" stroke="#006EFF" stroke-width="2.99" stroke-linecap="round"/>
<line x1="404.50" y1="533.75" x2="400.75" y2="550.00" stroke="#006EFF" stroke-width="2.92" stroke-linecap="round"/>
<line x1="400.75" y1="550.00" x2="395.00" y2="568.75" stroke="#006EFF" stroke-width="2.87" stroke-linecap="round"/>
<line x1="395.00" y1="568.75" x2="380.00" y2="595.00" stroke="#006EFF" stroke-width="2.60" stroke-linecap="round"/>
<line x1="380.00" y1="595.00" x2="338.75" y2="642.50" stroke="#006EFF" stroke-width="2.27" stroke-linecap="round"/>
<line x1="338.75" y1="642.50" x2="326.25" y2="668.75" stroke="#006EFF" stroke-width="2.71" stroke-linecap="round"/>
<line x1="326.25" y1="668.75" x2="323.75" y2="690.00" stroke="#006EFF" stroke-width="2.98" stroke-linecap="round"/>
<line x1="323.75" y1="690.00" x2="321.25" y2="731.25" stroke="#006EFF" stroke-width="2.99" stroke-linecap="round"/>
<line x1="321.25" y1="731.25" x2="313.75" y2="750.00" stroke="#006EFF" stroke-width="2.79" stroke-linecap="round"/>
<line x1="313.75" y1="750.00" x2="435.00" y2="766.25" stroke="#006EFF" stroke-width="2.97" stroke-linecap="round"/>
<line x1="435.00" y1="766.25" x2="450.00" y2="772.50" stroke="#006EFF" stroke-width="2.77" stroke-linecap="round"/>
<line x1="450.00" y1="772.50" x2="460.00" y2="783.75" stroke="#006EFF" stroke-width="2.24" stroke-linecap="round"/>
<line x1="460.00" y1="783.75" x2="462.50" y2="792.50" stroke="#006EFF" stroke-width="2.88" stroke-linecap="round"/>
<line x1="462.50" y1="792.50" x2="462.50" y2="835.00" stroke="#006EFF" stroke-width="3.00" stroke-linecap="round"/>
<line x1="462.50" y1="835.00" x2="464.50" y2="843.75" stroke="#006EFF" stroke-width="2.92" stroke-linecap="round"/>
<line x1="464.50" y1="843.75" x2="467.00" y2="847.50" stroke="#006EFF" stroke-width="2.50" stroke-linecap="round"/>
<line x1="467.00" y1="847.50" x2="470.50" y2="847.50" stroke="#006EFF" stroke-width="3.00" stroke-linecap="round"/>
<line x1="422.00" y1="109.50" x2="496.25" y2="300.00" stroke="#FF0000" stroke-width="3.07" stroke-linecap="round"/>
<line x1="496.25" y1="300.00" x2="511.25" y2="353.25" stroke="#FF0000" stroke-width="3.18" stroke-linecap="round"/>
<line x1="511.25" y1="353.25" x2="537.50" y2="430.00" stroke="#FF0000" stroke-width="3.12" stroke-linecap="round"/>
<line x1="537.50" y1="430.00" x2="546.25" y2="455.00" stroke="#FF0000" stroke-width="3.11" stroke-linecap="round"/>
<line x1="546.25" y1="455.00" x2="553.75" y2="485.00" stroke="#FF0000" stroke-width="3.20" stroke-linecap="round"/>
<line x1="553.75" y1="485.00" x2="560.00" y2="525.00" stroke="#FF0000" stroke-width="3.26" stroke-linecap="round"/>
<line x1="560.00" y1="525.00" x2="563.50" y2="550.00" stroke="#FF0000" stroke-width="3.27" stroke-linecap="round"/>
<line x1="563.50" y1="550.00" x2="572.50" y2="605.00" stroke="#FF0000" stroke-width="3.26" stroke-linecap="round"/>
<line x1="572.50" y1="605.00" x2="581.25" y2="645.00" stroke="#FF0000" stroke-width="3.22" stroke-linecap="round"/>
<line x1="581.25" y1="645.00" x2="586.25" y2="680.00" stroke="#FF0000" stroke-width="3.27" stroke-linecap="round"/>
<line x1="586.25" y1="680.00" x2="588.75" y2="702.50" stroke="#FF0000" stroke-width="3.28" stroke-linecap="round"/>
<line x1="588.75" y1="702.50" x2="593.75" y2="745.00" stroke="#FF0000" stroke-width="3.28" stroke-linecap="round"/>
<line x1="593.75" y1="745.00" x2="594.25" y2="748.75" stroke="#FF0000" stroke-width="3.27" stroke-linecap="round"/>
<line x1="594.25" y1="748.75" x2="583.75" y2="766.25" stroke="#FF0000" stroke-width="2.83" stroke-linecap="round"/>
<line x1="583.75" y1="766.25" x2="583.75" y2="774.00" stroke="#FF0000" stroke-width="3.30" stroke-linecap="round"/>
<line x1="583.75" y1="774.00" x2="593.75" y2="795.00" stroke="#FF0000" stroke-width="2.98" stroke-linecap="round"/>
<line x1="593.75" y1="795.00" x2="605.00" y2="812.50" stroke="#FF0000" stroke-width="2.78" stroke-linecap="round"/>
<line x1="605.00" y1="812.50" x2="620.00" y2="831.25" stroke="#FF0000" stroke-width="2.58" stroke-linecap="round"/>
<line x1="620.00" y1="831.25" x2="630.00" y2="841.25" stroke="#FF0000" stroke-width="2.33" stroke-linecap="round"/>
<line x1="630.00" y1="841.25" x2="637.50" y2="846.25" stroke="#FF0000" stroke-width="2.75" stroke-linecap="round"/>
<line x1="637.50" y1="846.25" x2="647.50" y2="847.00" stroke="#FF0000" stroke-width="3.29" stroke-linecap="round"/>
<polyline points="586.00,774.00 647.50,846.00" fill="none" stroke="#800080" stroke-width="1.4" stroke-dasharray="9 6"/>
<circle cx="508.7" cy="848.7" r="3.6" fill="#1469F0"/>
<circle cx="662" cy="848.7" r="3.9" fill="#FF0000"/>
<line x1="815.5" y1="74" x2="815.5" y2="902.5" stroke="#000" stroke-width="1.2"/>
<line x1="919.5" y1="74" x2="919.5" y2="924.5" stroke="#000" stroke-width="2.4"/>
<line x1="919.5" y1="129.3" x2="930.5" y2="129.3" stroke="#000" stroke-width="1.2"/>
<text x="942.50" y="137.00" font-size="18.2" fill="#000" textLength="21.00" lengthAdjust="spacingAndGlyphs" stroke="#000" stroke-width="0.45" >32</text>
<line x1="919.5" y1="184.3" x2="930.5" y2="184.3" stroke="#000" stroke-width="1.2"/>
<text x="942.50" y="192.00" font-size="18.2" fill="#000" textLength="21.00" lengthAdjust="spacingAndGlyphs" stroke="#000" stroke-width="0.45" >30</text>
<line x1="919.5" y1="237.0" x2="930.5" y2="237.0" stroke="#000" stroke-width="1.2"/>
<text x="942.50" y="244.70" font-size="18.2" fill="#000" textLength="21.00" lengthAdjust="spacingAndGlyphs" stroke="#000" stroke-width="0.45" >28</text>
<line x1="919.5" y1="290.0" x2="930.5" y2="290.0" stroke="#000" stroke-width="1.2"/>
<text x="942.50" y="297.70" font-size="18.2" fill="#000" textLength="21.00" lengthAdjust="spacingAndGlyphs" stroke="#000" stroke-width="0.45" >26</text>
<line x1="919.5" y1="340.8" x2="930.5" y2="340.8" stroke="#000" stroke-width="1.2"/>
<text x="942.50" y="348.50" font-size="18.2" fill="#000" textLength="21.00" lengthAdjust="spacingAndGlyphs" stroke="#000" stroke-width="0.45" >24</text>
<line x1="919.5" y1="392.5" x2="930.5" y2="392.5" stroke="#000" stroke-width="1.2"/>
<text x="942.50" y="400.20" font-size="18.2" fill="#000" textLength="21.00" lengthAdjust="spacingAndGlyphs" stroke="#000" stroke-width="0.45" >22</text>
<line x1="919.5" y1="442.5" x2="930.5" y2="442.5" stroke="#000" stroke-width="1.2"/>
<text x="942.50" y="450.20" font-size="18.2" fill="#000" textLength="21.00" lengthAdjust="spacingAndGlyphs" stroke="#000" stroke-width="0.45" >20</text>
<line x1="919.5" y1="491.3" x2="930.5" y2="491.3" stroke="#000" stroke-width="1.2"/>
<text x="942.50" y="499.00" font-size="18.2" fill="#000" textLength="21.00" lengthAdjust="spacingAndGlyphs" stroke="#000" stroke-width="0.45" >18</text>
<line x1="919.5" y1="540.0" x2="930.5" y2="540.0" stroke="#000" stroke-width="1.2"/>
<text x="942.50" y="547.70" font-size="18.2" fill="#000" textLength="21.00" lengthAdjust="spacingAndGlyphs" stroke="#000" stroke-width="0.45" >16</text>
<line x1="919.5" y1="588.3" x2="930.5" y2="588.3" stroke="#000" stroke-width="1.2"/>
<text x="942.50" y="596.00" font-size="18.2" fill="#000" textLength="21.00" lengthAdjust="spacingAndGlyphs" stroke="#000" stroke-width="0.45" >14</text>
<line x1="919.5" y1="635.3" x2="930.5" y2="635.3" stroke="#000" stroke-width="1.2"/>
<text x="942.50" y="643.00" font-size="18.2" fill="#000" textLength="21.00" lengthAdjust="spacingAndGlyphs" stroke="#000" stroke-width="0.45" >12</text>
<line x1="919.5" y1="681.0" x2="930.5" y2="681.0" stroke="#000" stroke-width="1.2"/>
<text x="942.50" y="688.70" font-size="18.2" fill="#000" textLength="21.00" lengthAdjust="spacingAndGlyphs" stroke="#000" stroke-width="0.45" >10</text>
<line x1="919.5" y1="727.0" x2="930.5" y2="727.0" stroke="#000" stroke-width="1.2"/>
<text x="942.50" y="734.70" font-size="18.2" fill="#000" textLength="10.50" lengthAdjust="spacingAndGlyphs" stroke="#000" stroke-width="0.45" >8</text>
<line x1="919.5" y1="771.3" x2="930.5" y2="771.3" stroke="#000" stroke-width="1.2"/>
<text x="942.50" y="779.00" font-size="18.2" fill="#000" textLength="10.50" lengthAdjust="spacingAndGlyphs" stroke="#000" stroke-width="0.45" >6</text>
<line x1="919.5" y1="816.3" x2="930.5" y2="816.3" stroke="#000" stroke-width="1.2"/>
<text x="942.50" y="824.00" font-size="18.2" fill="#000" textLength="10.50" lengthAdjust="spacingAndGlyphs" stroke="#000" stroke-width="0.45" >4</text>
<line x1="919.5" y1="860.0" x2="930.5" y2="860.0" stroke="#000" stroke-width="1.2"/>
<text x="942.50" y="867.70" font-size="18.2" fill="#000" textLength="10.50" lengthAdjust="spacingAndGlyphs" stroke="#000" stroke-width="0.45" >2</text>
<line x1="919.5" y1="902.0" x2="930.5" y2="902.0" stroke="#000" stroke-width="1.2"/>
<text x="942.50" y="909.70" font-size="18.2" fill="#000" textLength="10.50" lengthAdjust="spacingAndGlyphs" stroke="#000" stroke-width="0.45" >0</text>
<text x="886.00" y="420.00" font-size="18" fill="#000" textLength="160.00" lengthAdjust="spacingAndGlyphs" stroke="#000" stroke-width="0.45" transform="rotate(90 886.00 420.00)" >Height (1000 Feet)</text>
<text x="815.50" y="90.20" font-size="13" fill="#14B00A" text-anchor="middle" textLength="7.60" lengthAdjust="spacingAndGlyphs" font-weight="bold" stroke="#14B00A" stroke-width="0.1" >0</text>
<text x="867.50" y="90.20" font-size="13" fill="#14B00A" text-anchor="middle" textLength="15.20" lengthAdjust="spacingAndGlyphs" font-weight="bold" stroke="#14B00A" stroke-width="0.1" >20</text>
<text x="919.50" y="90.20" font-size="13" fill="#14B00A" text-anchor="middle" textLength="15.20" lengthAdjust="spacingAndGlyphs" font-weight="bold" stroke="#14B00A" stroke-width="0.1" >40</text>
<text x="971.50" y="90.20" font-size="13" fill="#14B00A" text-anchor="middle" textLength="15.20" lengthAdjust="spacingAndGlyphs" font-weight="bold" stroke="#14B00A" stroke-width="0.1" >60</text>
<text x="815.50" y="923.40" font-size="13" fill="#14B00A" text-anchor="middle" textLength="7.60" lengthAdjust="spacingAndGlyphs" font-weight="bold" stroke="#14B00A" stroke-width="0.1" >0</text>
<text x="867.50" y="923.40" font-size="13" fill="#14B00A" text-anchor="middle" textLength="15.20" lengthAdjust="spacingAndGlyphs" font-weight="bold" stroke="#14B00A" stroke-width="0.1" >20</text>
<text x="919.50" y="923.40" font-size="13" fill="#14B00A" text-anchor="middle" textLength="15.20" lengthAdjust="spacingAndGlyphs" font-weight="bold" stroke="#14B00A" stroke-width="0.1" >40</text>
<text x="971.50" y="923.40" font-size="13" fill="#14B00A" text-anchor="middle" textLength="15.20" lengthAdjust="spacingAndGlyphs" font-weight="bold" stroke="#14B00A" stroke-width="0.1" >60</text>
<text x="837.50" y="939.50" font-size="13" fill="#14B00A" textLength="63.50" lengthAdjust="spacingAndGlyphs" stroke="#14B00A" stroke-width="0.45" >Speed (kt)</text>
<polyline points="958.75,109.25 955.50,150.00 954.50,190.00 953.00,237.50 950.00,300.00 942.50,337.50 931.25,392.50 920.00,442.50 910.00,491.00 897.50,537.50 886.25,577.50 867.50,646.00 855.00,683.75 836.25,742.50 831.25,752.50 832.00,760.00 836.25,781.00 841.25,800.00 849.50,835.00 849.50,846.50 845.00,847.00" fill="none" stroke="#14B00A" stroke-width="1" />
<path d="M815.5 110.4 L775.6 116.1" stroke="#000" stroke-width="1.1" fill="none"/><polygon points="775.6,116.1 774.4,107.4 780.4,115.5" fill="#000" stroke="#000" stroke-width="0.6"/><path d="M784.9 114.8 l-3.8 -5.2" stroke="#000" stroke-width="0.7" fill="none"/>
<path d="M815.5 151.2 L775.6 156.9" stroke="#000" stroke-width="1.1" fill="none"/><polygon points="775.6,156.9 774.4,148.2 780.4,156.3" fill="#000" stroke="#000" stroke-width="0.6"/><path d="M784.9 155.6 l-3.8 -5.2" stroke="#000" stroke-width="0.7" fill="none"/>
<path d="M815.5 188.8 L775.6 194.7" stroke="#000" stroke-width="1.1" fill="none"/><polygon points="775.6,194.7 774.3,186.0 780.4,194.0" fill="#000" stroke="#000" stroke-width="0.6"/><path d="M784.9 193.3 l-3.8 -5.1" stroke="#000" stroke-width="0.7" fill="none"/>
<path d="M815.5 223.8 L775.6 229.7" stroke="#000" stroke-width="1.1" fill="none"/><polygon points="775.6,229.7 774.3,221.0 780.4,229.0" fill="#000" stroke="#000" stroke-width="0.6"/><path d="M784.9 228.3 l-3.8 -5.1" stroke="#000" stroke-width="0.7" fill="none"/>
<path d="M815.5 261.2 L775.6 267.2" stroke="#000" stroke-width="1.1" fill="none"/><polygon points="775.6,267.2 774.3,258.5 780.4,266.5" fill="#000" stroke="#000" stroke-width="0.6"/><path d="M784.9 265.8 l-3.8 -5.1" stroke="#000" stroke-width="0.7" fill="none"/>
<path d="M815.5 304.0 L775.7 310.2" stroke="#000" stroke-width="1.1" fill="none"/><polygon points="775.7,310.2 774.3,301.5 780.4,309.4" fill="#000" stroke="#000" stroke-width="0.6"/>
<path d="M815.5 353.0 L776.0 361.2" stroke="#000" stroke-width="1.1" fill="none"/><polygon points="776.0,361.2 774.3,352.6 780.7,360.2" fill="#000" stroke="#000" stroke-width="0.6"/>
<path d="M815.5 404.3 L781.0 412.6" stroke="#000" stroke-width="1.1" fill="none"/><path d="M781.0 412.6 l-8.3 -9.4" stroke="#000" stroke-width="1" fill="none"/><path d="M784.4 411.8 l-8.3 -9.4" stroke="#000" stroke-width="1" fill="none"/><path d="M787.8 411.0 l-8.3 -9.4" stroke="#000" stroke-width="1" fill="none"/><path d="M791.2 410.1 l-8.3 -9.4" stroke="#000" stroke-width="1" fill="none"/><path d="M794.6 409.3 l-4.2 -4.8" stroke="#000" stroke-width="1" fill="none"/>
<path d="M815.5 454.0 L780.8 461.3" stroke="#000" stroke-width="1.1" fill="none"/><path d="M780.8 461.3 l-8.1 -9.7" stroke="#000" stroke-width="1" fill="none"/><path d="M784.2 460.6 l-8.1 -9.7" stroke="#000" stroke-width="1" fill="none"/><path d="M787.6 459.9 l-8.1 -9.7" stroke="#000" stroke-width="1" fill="none"/><path d="M791.0 459.2 l-8.1 -9.7" stroke="#000" stroke-width="1" fill="none"/>
<path d="M815.5 499.2 L780.4 504.5" stroke="#000" stroke-width="1.1" fill="none"/><path d="M780.4 504.5 l-7.5 -10.1" stroke="#000" stroke-width="1" fill="none"/><path d="M783.9 504.0 l-7.5 -10.1" stroke="#000" stroke-width="1" fill="none"/><path d="M787.3 503.5 l-7.5 -10.1" stroke="#000" stroke-width="1" fill="none"/><path d="M790.8 502.9 l-3.8 -5.1" stroke="#000" stroke-width="1" fill="none"/>
<path d="M815.5 536.9 L780.5 542.6" stroke="#000" stroke-width="1.1" fill="none"/><path d="M780.5 542.6 l-7.6 -10.0" stroke="#000" stroke-width="1" fill="none"/><path d="M783.9 542.1 l-7.6 -10.0" stroke="#000" stroke-width="1" fill="none"/><path d="M787.4 541.5 l-7.6 -10.0" stroke="#000" stroke-width="1" fill="none"/>
<path d="M815.5 568.0 L780.6 574.5" stroke="#000" stroke-width="1.1" fill="none"/><path d="M780.6 574.5 l-7.8 -9.9" stroke="#000" stroke-width="1" fill="none"/><path d="M784.0 573.8 l-7.8 -9.9" stroke="#000" stroke-width="1" fill="none"/><path d="M787.5 573.2 l-7.8 -9.9" stroke="#000" stroke-width="1" fill="none"/>
<path d="M815.5 593.1 L780.8 600.7" stroke="#000" stroke-width="1.1" fill="none"/><path d="M780.8 600.7 l-8.2 -9.6" stroke="#000" stroke-width="1" fill="none"/><path d="M784.2 600.0 l-8.2 -9.6" stroke="#000" stroke-width="1" fill="none"/><path d="M787.7 599.2 l-4.1 -4.9" stroke="#000" stroke-width="1" fill="none"/>
<path d="M815.5 613.5 L780.9 621.5" stroke="#000" stroke-width="1.1" fill="none"/><path d="M780.9 621.5 l-8.3 -9.5" stroke="#000" stroke-width="1" fill="none"/><path d="M784.3 620.8 l-8.3 -9.5" stroke="#000" stroke-width="1" fill="none"/><path d="M787.7 620.0 l-4.2 -4.8" stroke="#000" stroke-width="1" fill="none"/>
<path d="M815.5 629.1 L781.7 640.0" stroke="#000" stroke-width="1.1" fill="none"/><path d="M781.7 640.0 l-9.0 -8.8" stroke="#000" stroke-width="1" fill="none"/><path d="M785.0 638.9 l-9.0 -8.8" stroke="#000" stroke-width="1" fill="none"/>
<path d="M815.5 643.4 L781.9 655.0" stroke="#000" stroke-width="1.1" fill="none"/><path d="M781.9 655.0 l-9.2 -8.6" stroke="#000" stroke-width="1" fill="none"/><path d="M785.2 653.8 l-9.2 -8.6" stroke="#000" stroke-width="1" fill="none"/>
<path d="M815.5 657.1 L782.5 670.2" stroke="#000" stroke-width="1.1" fill="none"/><path d="M782.5 670.2 l-9.6 -8.2" stroke="#000" stroke-width="1" fill="none"/><path d="M785.7 668.9 l-9.6 -8.2" stroke="#000" stroke-width="1" fill="none"/>
<path d="M815.5 669.0 L783.3 684.0" stroke="#000" stroke-width="1.1" fill="none"/><path d="M783.3 684.0 l-10.1 -7.6" stroke="#000" stroke-width="1" fill="none"/><path d="M786.5 682.5 l-10.1 -7.6" stroke="#000" stroke-width="1" fill="none"/>
<path d="M815.5 681.4 L783.1 695.9" stroke="#000" stroke-width="1.1" fill="none"/><path d="M783.1 695.9 l-9.9 -7.7" stroke="#000" stroke-width="1" fill="none"/><path d="M786.3 694.5 l-5.1 -3.9" stroke="#000" stroke-width="1" fill="none"/>
<path d="M815.5 692.1 L784.2 708.9" stroke="#000" stroke-width="1.1" fill="none"/><path d="M784.2 708.9 l-10.5 -7.0" stroke="#000" stroke-width="1" fill="none"/><path d="M787.3 707.3 l-5.3 -3.6" stroke="#000" stroke-width="1" fill="none"/>
<path d="M815.5 703.2 L784.9 721.3" stroke="#000" stroke-width="1.1" fill="none"/><path d="M784.9 721.3 l-10.8 -6.6" stroke="#000" stroke-width="1" fill="none"/><path d="M788.0 719.5 l-5.5 -3.3" stroke="#000" stroke-width="1" fill="none"/>
<path d="M815.5 712.9 L786.8 733.8" stroke="#000" stroke-width="1.1" fill="none"/><path d="M786.8 733.8 l-11.3 -5.5" stroke="#000" stroke-width="1" fill="none"/>
<path d="M815.5 722.7 L787.6 744.7" stroke="#000" stroke-width="1.1" fill="none"/><path d="M787.6 744.7 l-11.5 -5.1" stroke="#000" stroke-width="1" fill="none"/>
<path d="M815.5 732.4 L788.9 755.9" stroke="#000" stroke-width="1.1" fill="none"/><path d="M788.9 755.9 l-11.8 -4.4" stroke="#000" stroke-width="1" fill="none"/>
<path d="M815.5 742.2 L790.2 767.1" stroke="#000" stroke-width="1.1" fill="none"/><path d="M790.2 767.1 l-12.0 -3.8" stroke="#000" stroke-width="1" fill="none"/>
<path d="M815.5 750.6 L796.0 780.2" stroke="#000" stroke-width="1.1" fill="none"/><path d="M798.2 776.9 l-6.4 -0.6" stroke="#000" stroke-width="1" fill="none"/>
<path d="M815.5 755.8 L809.3 790.8" stroke="#000" stroke-width="1.1" fill="none"/><path d="M810.0 786.8 l-6.1 2.0" stroke="#000" stroke-width="1" fill="none"/>
<path d="M815.5 762.0 L813.0 797.4" stroke="#000" stroke-width="1.1" fill="none"/><path d="M813.3 793.4 l-5.8 2.6" stroke="#000" stroke-width="1" fill="none"/>
<path d="M815.5 767.5 L814.3 803.0" stroke="#000" stroke-width="1.1" fill="none"/>
<path d="M815.5 773.0 L811.8 808.3" stroke="#000" stroke-width="1.1" fill="none"/><path d="M812.2 804.3 l-5.9 2.4" stroke="#000" stroke-width="1" fill="none"/>
<path d="M815.5 778.4 L805.7 812.5" stroke="#000" stroke-width="1.1" fill="none"/><path d="M806.8 808.7 l-6.3 1.3" stroke="#000" stroke-width="1" fill="none"/>
<path d="M815.5 784.4 L803.9 818.0" stroke="#000" stroke-width="1.1" fill="none"/><path d="M803.9 818.0 l-12.4 2.0" stroke="#000" stroke-width="1" fill="none"/>
<path d="M815.5 791.9 L800.2 823.9" stroke="#000" stroke-width="1.1" fill="none"/><path d="M800.2 823.9 l-12.6 0.5" stroke="#000" stroke-width="1" fill="none"/>
<path d="M815.5 797.0 L799.1 828.5" stroke="#000" stroke-width="1.1" fill="none"/><path d="M799.1 828.5 l-12.6 0.1" stroke="#000" stroke-width="1" fill="none"/>
<path d="M815.5 805.4 L795.6 834.8" stroke="#000" stroke-width="1.1" fill="none"/><path d="M795.6 834.8 l-12.5 -1.3" stroke="#000" stroke-width="1" fill="none"/>
<path d="M815.5 812.8 L793.7 840.8" stroke="#000" stroke-width="1.1" fill="none"/><path d="M793.7 840.8 l-12.4 -2.2" stroke="#000" stroke-width="1" fill="none"/>
<path d="M815.5 820.4 L792.2 847.2" stroke="#000" stroke-width="1.1" fill="none"/><path d="M792.2 847.2 l-12.3 -2.9" stroke="#000" stroke-width="1" fill="none"/>
<path d="M815.5 827.8 L790.3 852.8" stroke="#000" stroke-width="1.1" fill="none"/><path d="M790.3 852.8 l-12.0 -3.7" stroke="#000" stroke-width="1" fill="none"/>
<path d="M815.5 835.7 L787.6 857.7" stroke="#000" stroke-width="1.1" fill="none"/><path d="M787.6 857.7 l-11.5 -5.1" stroke="#000" stroke-width="1" fill="none"/>
<path d="M815.5 840.0 L786.8 860.9" stroke="#000" stroke-width="1.1" fill="none"/><path d="M786.8 860.9 l-11.3 -5.5" stroke="#000" stroke-width="1" fill="none"/>
<path d="M815.5 844.2 L785.7 863.5" stroke="#000" stroke-width="1.1" fill="none"/><path d="M785.7 863.5 l-11.0 -6.1" stroke="#000" stroke-width="1" fill="none"/>
<path d="M815.5 848.0 L785.2 866.5" stroke="#000" stroke-width="1.1" fill="none"/><path d="M785.2 866.5 l-10.9 -6.4" stroke="#000" stroke-width="1" fill="none"/>
</svg>
</body></html>
